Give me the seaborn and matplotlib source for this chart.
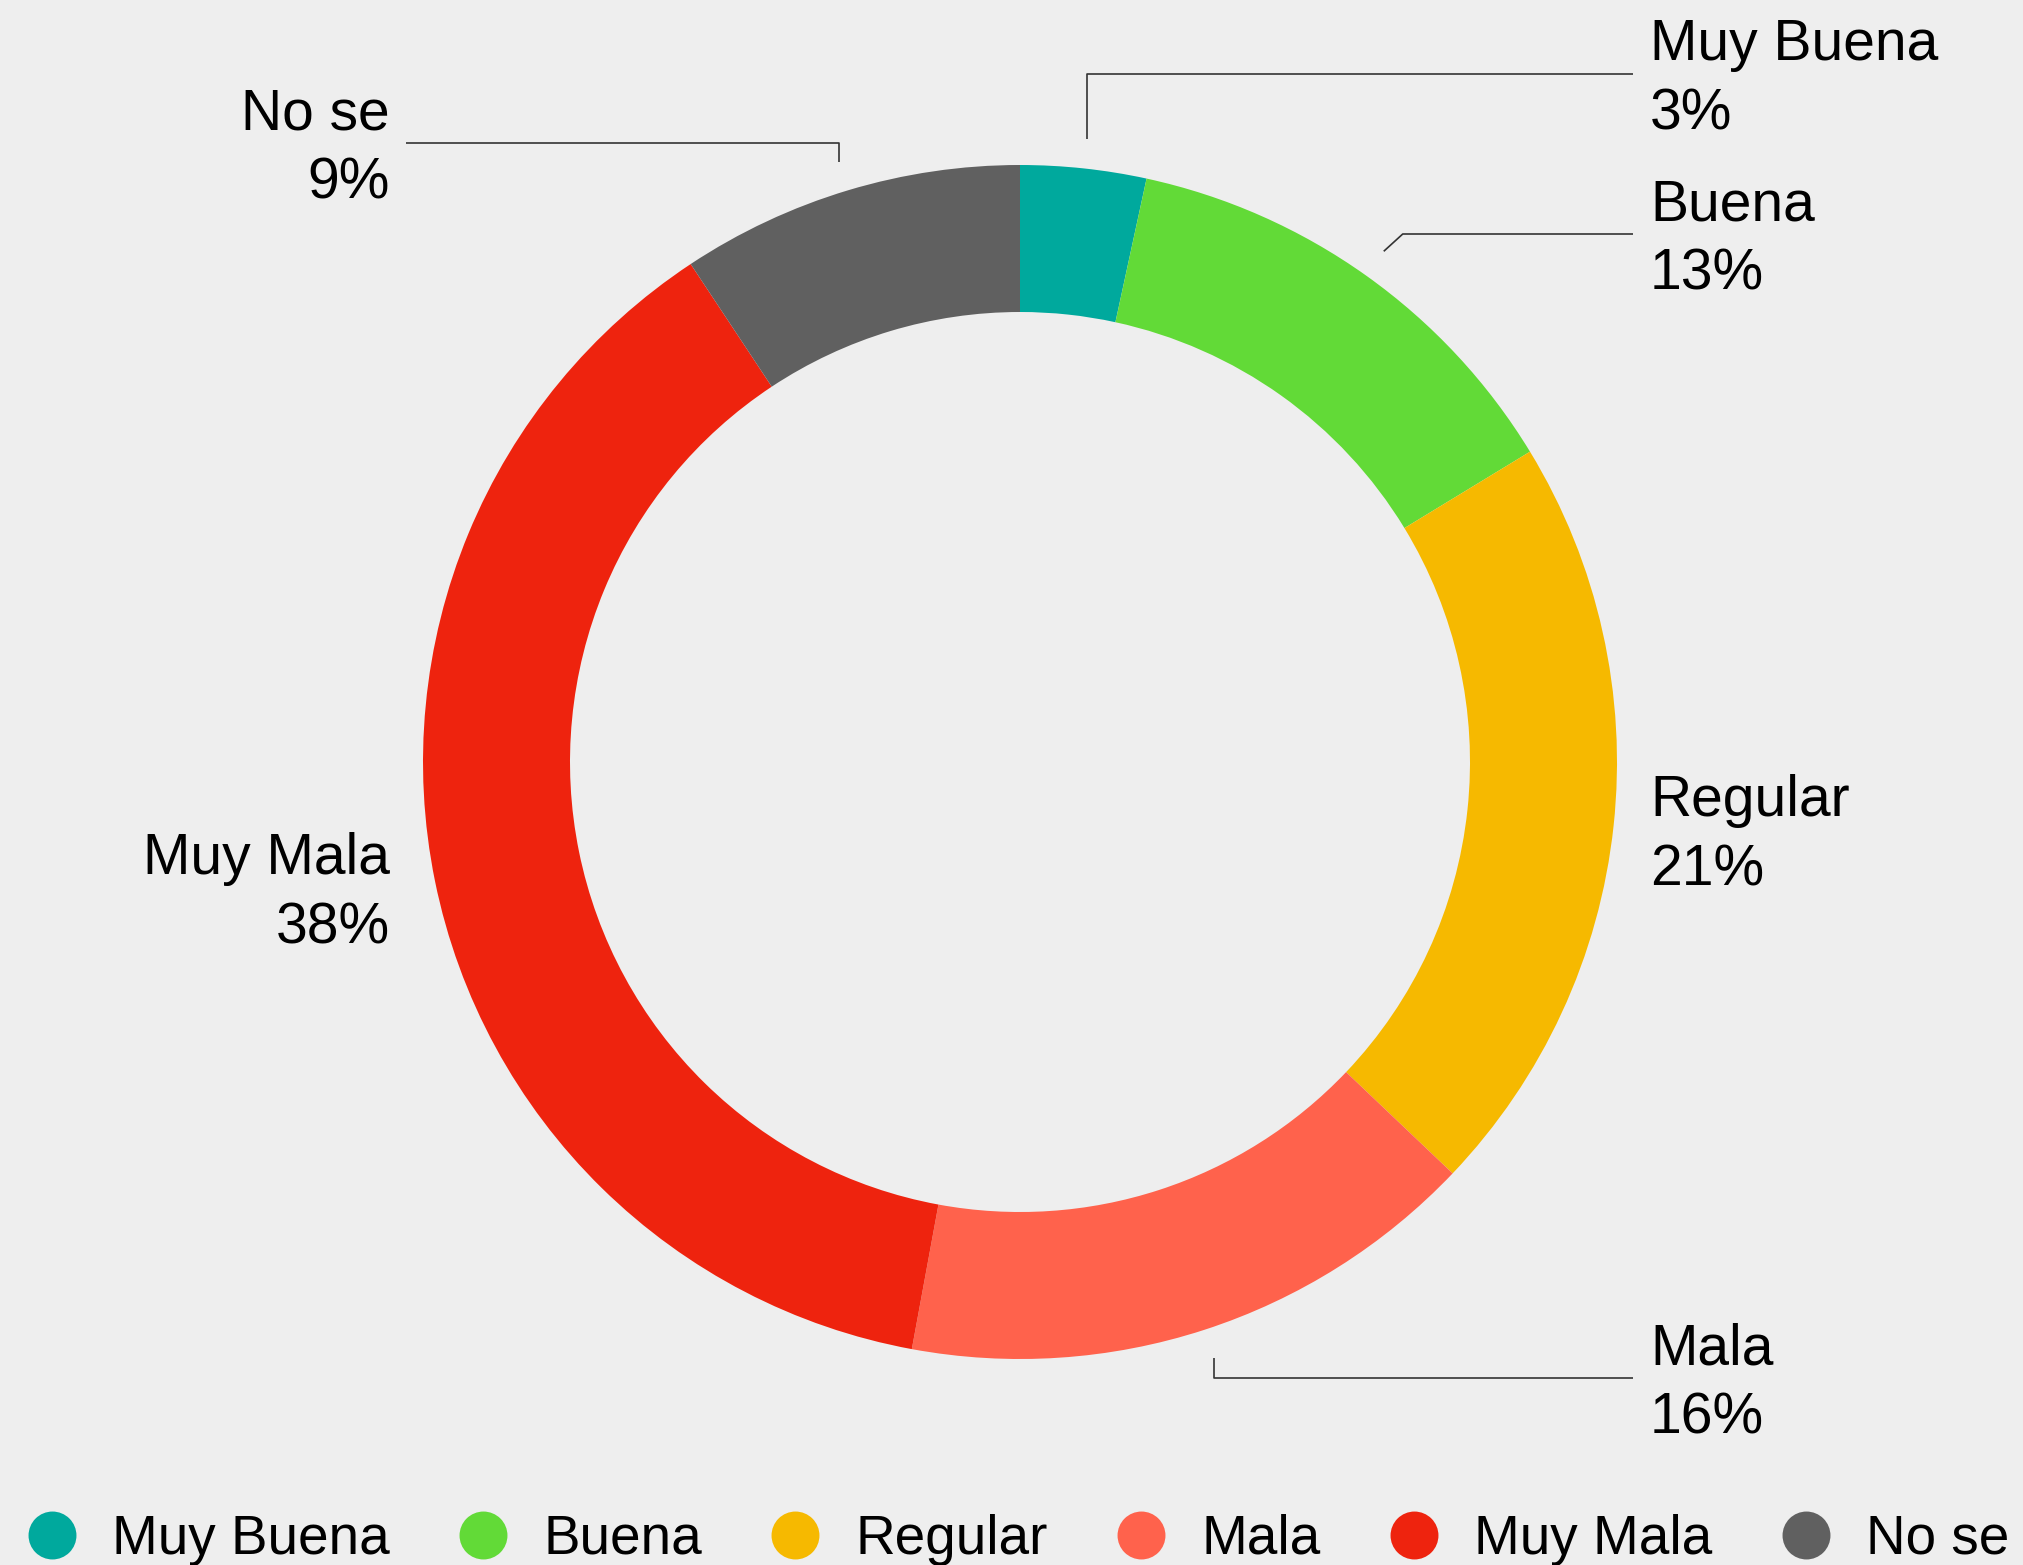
import numpy as np
import matplotlib
matplotlib.use("Agg")
import matplotlib.pyplot as plt
from matplotlib.lines import Line2D
import seaborn as sns

# data
categories = ['Muy Buena', 'Buena', 'Regular', 'Mala', 'Muy Mala', 'No se']
shares = [3.4, 12.9, 20.8, 15.8, 37.8, 9.3]
colors = ['#00a99d', '#62da37', '#f6b900', '#ff624c', '#ee230e', '#606060']

# layout (pixels, image y measured from the top)
W, H = 2024, 1565
cx, cy = 1020, 762
r_out, r_in = 597, 450
label_x = [1650, 1650, 1650, 1650, 390, 390]
label_y = [74, 234, 830, 1378, 888, 143]
show_line = [True, True, False, True, False, True]
elbow_dx = [0, 19, 0, 0, 0, 0]
line_end_x = [1633, 1633, 1633, 1633, 406, 406]
bg = '#eeeeee'

sns.set_theme(style='white')
plt.rcParams['font.family'] = ['Liberation Sans', 'DejaVu Sans']
pal = sns.color_palette(colors)

fig = plt.figure(figsize=(W / 100, H / 100), dpi=100, facecolor=bg)
ax = fig.add_axes([0, 0, 1, 1])
ax.set_facecolor(bg)

wedges, _ = ax.pie(shares, colors=pal, startangle=90, counterclock=False,
                   radius=r_out, center=(cx, H - cy),
                   wedgeprops=dict(width=r_out - r_in, linewidth=0))
ax.set_xlim(0, W)
ax.set_ylim(0, H)
ax.axis('off')

for i, w in enumerate(wedges):
    ly = H - label_y[i]
    right = label_x[i] > cx
    txt = f"{categories[i]}\n{round(shares[i])}%"
    ax.text(label_x[i], ly - 6, txt, fontsize=41, ha='left' if right else 'right',
            va='center', multialignment='left' if right else 'right',
            linespacing=1.36, color='black')
    if show_line[i]:
        mid = np.deg2rad((w.theta1 + w.theta2) / 2)
        sx = cx + (r_out + 30) * np.cos(mid)
        sy = (H - cy) + (r_out + 30) * np.sin(mid)
        ex = sx + elbow_dx[i]
        ax.plot([sx, ex, line_end_x[i]], [sy, ly, ly], color='#333333', lw=1.2,
                solid_capstyle='butt')

handles = [Line2D([], [], marker='o', linestyle='none', markersize=34.5,
                  markerfacecolor=c, markeredgewidth=0) for c in pal]
leg = fig.legend(handles, categories, loc='center', bbox_to_anchor=(0.503, 1 - 1540 / H),
                 ncol=6, frameon=False, fontsize=39.5, handlelength=0.91,
                 handletextpad=0.64, columnspacing=1.25, borderpad=0, borderaxespad=0)
for t in leg.get_texts():
    t.set_color('black')

fig.savefig('out.png', dpi=100, facecolor=bg)
